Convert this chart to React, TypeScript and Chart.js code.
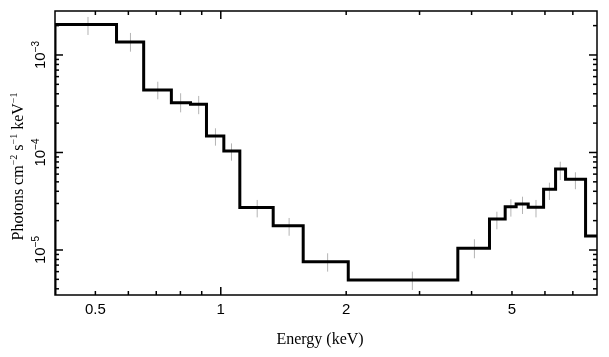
import { useEffect, useRef } from "react";
import { Chart, registerables } from "chart.js";

Chart.register(...registerables);

// Histogram bin edges (keV) and binned flux values (photons cm^-2 s^-1 keV^-1)
const binEdges = [0.4, 0.562, 0.653, 0.761, 0.846, 0.924, 1.017, 1.111, 1.336, 1.577, 2.023, 3.707, 4.416, 4.816, 5.117, 5.47, 5.955, 6.363, 6.724, 7.51, 8.5];
const binValues = [2.056e-3, 1.36e-3, 4.38e-4, 3.24e-4, 3.12e-4, 1.477e-4, 1.036e-4, 2.72e-5, 1.77e-5, 7.59e-6, 4.92e-6, 1.04e-5, 2.08e-5, 2.78e-5, 2.96e-5, 2.74e-5, 4.2e-5, 6.78e-5, 5.31e-5, 1.39e-5];

// Error bars (gray vertical lines)
const errEnergy = [0.48, 0.607, 0.706, 0.801, 0.885, 0.971, 1.061, 1.223, 1.459, 1.805, 2.883, 4.063, 4.6, 4.97, 5.3, 5.71, 6.15, 6.53, 7.1];
const errLow = [1.603e-3, 1.081e-3, 3.51e-4, 2.58e-4, 2.47e-4, 1.175e-4, 8.24e-5, 2.16e-5, 1.4e-5, 6.0e-6, 3.89e-6, 8.22e-6, 1.63e-5, 2.2e-5, 2.34e-5, 2.16e-5, 3.26e-5, 5.22e-5, 4.2e-5];
const errHigh = [2.455e-3, 1.683e-3, 5.32e-4, 4.05e-4, 3.8e-4, 1.77e-4, 1.24e-4, 3.26e-5, 2.13e-5, 9.25e-6, 6.0e-6, 1.29e-5, 2.47e-5, 3.31e-5, 3.52e-5, 3.26e-5, 4.9e-5, 8.05e-5, 6.27e-5];

// Axis ranges and ticks
const xMin = 0.4;
const xMax = 8.0;
const yMin = 3.455e-6;
const yMax = 2.825e-3;
const xLabelValues = [0.5, 1, 2, 5];
const xLabelTexts = ["0.5", "1", "2", "5"];
const xMajorTicks = [1];
const xMinorTicks = [0.5, 0.6, 0.7, 0.8, 0.9, 2, 3, 4, 5, 6, 7];
const yMajorTicks = [1e-5, 1e-4, 1e-3];
const yMajorExponents = ["\u22125", "\u22124", "\u22123"];
const yMinorTicks = [4e-6, 5e-6, 6e-6, 7e-6, 8e-6, 9e-6, 2e-5, 3e-5, 4e-5, 5e-5, 6e-5, 7e-5, 8e-5, 9e-5, 2e-4, 3e-4, 4e-4, 5e-4, 6e-4, 7e-4, 8e-4, 9e-4, 2e-3];
const xTitle = "Energy (keV)";
const yTitleParts: [string, boolean][] = [
  ["Photons cm", false],
  ["\u22122", true],
  [" s", false],
  ["\u22121", true],
  [" keV", false],
  ["\u22121", true],
];

const axesPlugin = {
  id: "xspecAxes",
  afterDraw(chart: any) {
    const ctx: CanvasRenderingContext2D = chart.ctx;
    const { left, right, top, bottom } = chart.chartArea;
    const xs = chart.scales.x;
    const ys = chart.scales.y;
    ctx.save();
    ctx.strokeStyle = "#000";
    ctx.fillStyle = "#000";
    ctx.lineWidth = 1.5;
    ctx.strokeRect(left, top, right - left, bottom - top);
    const seg = (x1: number, y1: number, x2: number, y2: number) => {
      ctx.beginPath();
      ctx.moveTo(x1, y1);
      ctx.lineTo(x2, y2);
      ctx.stroke();
    };
    const minorLen = 4;
    const majorLen = 8;
    xMinorTicks.forEach((v) => {
      const px = xs.getPixelForValue(v);
      seg(px, bottom, px, bottom - minorLen);
      seg(px, top, px, top + minorLen);
    });
    xMajorTicks.forEach((v) => {
      const px = xs.getPixelForValue(v);
      seg(px, bottom, px, bottom - majorLen);
      seg(px, top, px, top + majorLen);
    });
    yMinorTicks.forEach((v) => {
      const py = ys.getPixelForValue(v);
      seg(left, py, left + minorLen, py);
      seg(right, py, right - minorLen, py);
    });
    yMajorTicks.forEach((v) => {
      const py = ys.getPixelForValue(v);
      seg(left, py, left + majorLen, py);
      seg(right, py, right - majorLen, py);
    });

    // x tick labels
    ctx.font = '15px "Liberation Sans"';
    ctx.textAlign = "center";
    ctx.textBaseline = "alphabetic";
    xLabelValues.forEach((v, i) => {
      ctx.fillText(xLabelTexts[i], xs.getPixelForValue(v), 313.5);
    });

    // y tick labels (rotated)
    yMajorTicks.forEach((v, i) => {
      const py = ys.getPixelForValue(v);
      ctx.save();
      ctx.translate(45, py);
      ctx.rotate(-Math.PI / 2);
      ctx.textAlign = "left";
      ctx.font = '15px "Liberation Sans"';
      const w1 = ctx.measureText("10").width;
      ctx.font = '10px "Liberation Sans"';
      const w2 = ctx.measureText(yMajorExponents[i]).width;
      const start = -(w1 + w2) / 2;
      ctx.font = '15px "Liberation Sans"';
      ctx.fillText("10", start, 0);
      ctx.font = '10px "Liberation Sans"';
      ctx.fillText(yMajorExponents[i], start + w1, -6);
      ctx.restore();
    });

    // x title
    ctx.font = '16px "Liberation Serif"';
    ctx.textAlign = "center";
    ctx.fillText(xTitle, 320, 343.5);

    // y title (rotated, with superscripts)
    ctx.save();
    ctx.translate(23, 166.5);
    ctx.rotate(-Math.PI / 2);
    ctx.textAlign = "left";
    let total = 0;
    yTitleParts.forEach(([t, sup]) => {
      ctx.font = sup ? '10px "Liberation Serif"' : '16px "Liberation Serif"';
      total += ctx.measureText(t).width;
    });
    let cx = -total / 2;
    yTitleParts.forEach(([t, sup]) => {
      ctx.font = sup ? '10px "Liberation Serif"' : '16px "Liberation Serif"';
      ctx.fillText(t, cx, sup ? -6 : 0);
      cx += ctx.measureText(t).width;
    });
    ctx.restore();

    ctx.restore();
  },
};

export default function App() {
  const ref = useRef<HTMLCanvasElement | null>(null);
  useEffect(() => {
    if (!ref.current) return;
    const stepData: { x: number; y: number }[] = [{ x: binEdges[0], y: 1e-9 }];
    binValues.forEach((v, i) => stepData.push({ x: binEdges[i], y: v }));
    stepData.push({ x: binEdges[binEdges.length - 1], y: binValues[binValues.length - 1] });

    const errData: { x: number; y: number | null }[] = [];
    errEnergy.forEach((e, i) => {
      errData.push({ x: e, y: errLow[i] });
      errData.push({ x: e, y: errHigh[i] });
      errData.push({ x: e, y: null });
    });

    const chart = new Chart(ref.current, {
      type: "line",
      data: {
        datasets: [
          {
            label: "spectrum",
            data: stepData as any,
            stepped: "before",
            borderColor: "#000",
            borderWidth: 3,
            pointRadius: 0,
            fill: false,
            order: 1,
          },
          {
            label: "errors",
            data: errData as any,
            borderColor: "#b4b4b4",
            borderWidth: 1,
            pointRadius: 0,
            spanGaps: false,
            fill: false,
            order: 2,
          },
        ],
      },
      options: {
        animation: false,
        responsive: true,
        maintainAspectRatio: false,
        events: [],
        layout: { padding: { left: 55, right: 12, top: 11, bottom: 62 } },
        plugins: { legend: { display: false }, tooltip: { enabled: false } },
        scales: {
          x: { type: "logarithmic", min: xMin, max: xMax, display: false },
          y: { type: "logarithmic", min: yMin, max: yMax, display: false },
        },
      },
      plugins: [axesPlugin],
    });
    return () => chart.destroy();
  }, []);

  return (
    <div style={{ position: "fixed", left: 0, top: 0, width: 609, height: 357, background: "#fff" }}>
      <canvas ref={ref} />
    </div>
  );
}
